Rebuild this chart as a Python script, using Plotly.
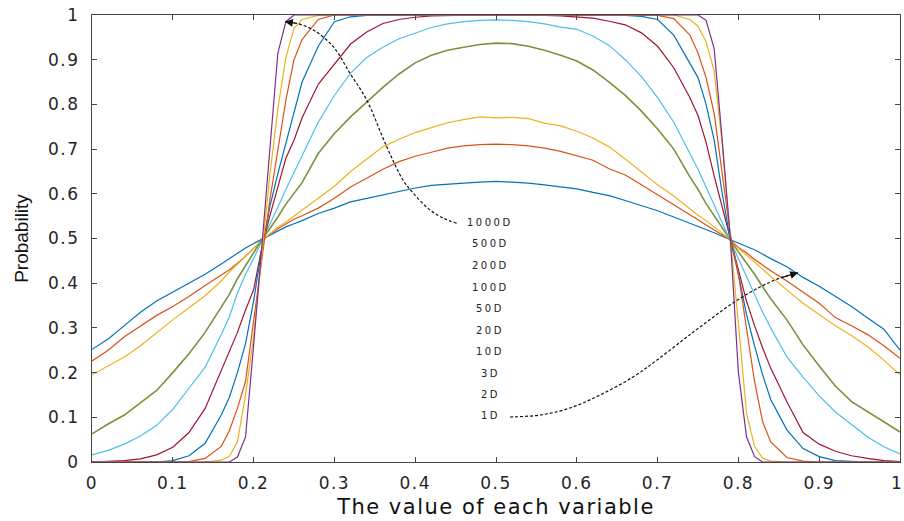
import plotly.graph_objects as go

# Sample positions along the variable axis (finer spacing through the two transitions)
x_vals = [0.00, 0.02, 0.04, 0.06, 0.08, 0.10, 0.12, 0.14, 0.16,
          0.17, 0.18, 0.19, 0.20, 0.21, 0.22, 0.23, 0.24, 0.25, 0.26,
          0.28, 0.30, 0.32, 0.34, 0.36, 0.38, 0.40, 0.42, 0.44, 0.46, 0.48, 0.50,
          0.52, 0.54, 0.56, 0.58, 0.60, 0.62, 0.64, 0.66, 0.68, 0.70, 0.72,
          0.74, 0.75, 0.76, 0.77, 0.78, 0.79, 0.80, 0.81, 0.82, 0.83, 0.84,
          0.86, 0.88, 0.90, 0.92, 0.94, 0.96, 0.98, 1.00]

p_1d = [0.252, 0.275, 0.305, 0.335, 0.360, 0.380, 0.400, 0.420, 0.443,
        0.455, 0.466, 0.479, 0.489, 0.498, 0.508, 0.517, 0.526, 0.533, 0.540,
        0.556, 0.568, 0.582, 0.590, 0.597, 0.606, 0.613, 0.619, 0.622, 0.624, 0.626, 0.628,
        0.626, 0.624, 0.620, 0.616, 0.611, 0.603, 0.596, 0.585, 0.573, 0.562, 0.548,
        0.534, 0.528, 0.520, 0.513, 0.505, 0.497, 0.489, 0.482, 0.475, 0.465, 0.455,
        0.437, 0.413, 0.393, 0.370, 0.348, 0.322, 0.297, 0.250]

p_2d = [0.226, 0.250, 0.280, 0.305, 0.328, 0.348, 0.370, 0.395, 0.418,
        0.430, 0.445, 0.460, 0.478, 0.495, 0.510, 0.522, 0.533, 0.543, 0.551,
        0.568, 0.590, 0.615, 0.635, 0.655, 0.672, 0.684, 0.693, 0.702, 0.707, 0.710, 0.711,
        0.710, 0.707, 0.702, 0.695, 0.685, 0.675, 0.656, 0.642, 0.620, 0.598, 0.575,
        0.553, 0.542, 0.530, 0.519, 0.508, 0.497, 0.480, 0.468, 0.453, 0.440, 0.428,
        0.405, 0.380, 0.355, 0.323, 0.305, 0.285, 0.260, 0.232]

p_3d = [0.195, 0.215, 0.235, 0.260, 0.290, 0.318, 0.345, 0.372, 0.405,
        0.425, 0.442, 0.460, 0.478, 0.496, 0.510, 0.525, 0.537, 0.550, 0.562,
        0.590, 0.617, 0.650, 0.678, 0.705, 0.722, 0.737, 0.748, 0.759, 0.766, 0.772, 0.770,
        0.771, 0.768, 0.758, 0.752, 0.740, 0.725, 0.705, 0.678, 0.648, 0.620, 0.595,
        0.565, 0.552, 0.540, 0.527, 0.512, 0.497, 0.478, 0.463, 0.447, 0.430, 0.415,
        0.385, 0.355, 0.330, 0.305, 0.283, 0.258, 0.228, 0.195]

p_10d = [0.063, 0.085, 0.105, 0.132, 0.160, 0.200, 0.242, 0.290, 0.345,
         0.375, 0.410, 0.440, 0.470, 0.497, 0.522, 0.548, 0.577, 0.600, 0.625,
         0.690, 0.735, 0.772, 0.805, 0.838, 0.868, 0.893, 0.910, 0.921, 0.928, 0.934, 0.937,
         0.936, 0.930, 0.921, 0.910, 0.897, 0.877, 0.850, 0.820, 0.785, 0.745, 0.700,
         0.638, 0.610, 0.578, 0.550, 0.523, 0.497, 0.470, 0.445, 0.420, 0.392, 0.365,
         0.318, 0.262, 0.215, 0.170, 0.135, 0.113, 0.090, 0.067]

p_20d = [0.016, 0.026, 0.040, 0.058, 0.082, 0.118, 0.165, 0.212, 0.285,
         0.325, 0.378, 0.420, 0.455, 0.493, 0.530, 0.570, 0.610, 0.648, 0.685,
         0.760, 0.820, 0.870, 0.905, 0.928, 0.947, 0.960, 0.972, 0.980, 0.985, 0.988, 0.989,
         0.988, 0.985, 0.980, 0.973, 0.968, 0.953, 0.932, 0.900, 0.862, 0.815, 0.760,
         0.690, 0.655, 0.615, 0.575, 0.535, 0.497, 0.455, 0.415, 0.375, 0.335, 0.300,
         0.235, 0.190, 0.148, 0.112, 0.084, 0.056, 0.034, 0.018]

p_50d = [0.000, 0.001, 0.003, 0.007, 0.016, 0.033, 0.066, 0.120, 0.205,
         0.245, 0.290, 0.340, 0.385, 0.478, 0.550, 0.615, 0.680, 0.720, 0.770,
         0.845, 0.890, 0.935, 0.962, 0.981, 0.990, 0.995, 0.998, 0.999, 1.000, 1.000, 1.000,
         1.000, 1.000, 0.999, 0.998, 0.996, 0.993, 0.986, 0.978, 0.960, 0.930, 0.882,
         0.815, 0.775, 0.715, 0.640, 0.570, 0.497, 0.430, 0.360, 0.305, 0.255, 0.210,
         0.135, 0.066, 0.040, 0.024, 0.014, 0.008, 0.003, 0.001]

p_100d = [0.000, 0.000, 0.000, 0.000, 0.000, 0.003, 0.014, 0.042, 0.105,
          0.145, 0.200, 0.265, 0.360, 0.475, 0.570, 0.645, 0.713, 0.778, 0.850,
          0.930, 0.985, 0.996, 0.999, 1.000, 1.000, 1.000, 1.000, 1.000, 1.000, 1.000, 1.000,
          1.000, 1.000, 1.000, 1.000, 1.000, 1.000, 1.000, 0.999, 0.997, 0.990, 0.955,
          0.892, 0.860, 0.800, 0.720, 0.600, 0.497, 0.420, 0.330, 0.260, 0.195, 0.140,
          0.072, 0.030, 0.012, 0.003, 0.001, 0.000, 0.000, 0.000]

p_200d = [0.000, 0.000, 0.000, 0.000, 0.000, 0.000, 0.001, 0.008, 0.035,
          0.070, 0.120, 0.180, 0.310, 0.450, 0.585, 0.700, 0.810, 0.900, 0.945,
          0.990, 1.000, 1.000, 1.000, 1.000, 1.000, 1.000, 1.000, 1.000, 1.000, 1.000, 1.000,
          1.000, 1.000, 1.000, 1.000, 1.000, 1.000, 1.000, 1.000, 1.000, 0.999, 0.992,
          0.955, 0.915, 0.860, 0.780, 0.650, 0.510, 0.420, 0.300, 0.180, 0.090, 0.045,
          0.010, 0.002, 0.000, 0.000, 0.000, 0.000, 0.000, 0.000]

p_500d = [0.000, 0.000, 0.000, 0.000, 0.000, 0.000, 0.000, 0.000, 0.004,
          0.012, 0.045, 0.150, 0.280, 0.455, 0.640, 0.790, 0.905, 0.970, 0.990,
          0.999, 1.000, 1.000, 1.000, 1.000, 1.000, 1.000, 1.000, 1.000, 1.000, 1.000, 1.000,
          1.000, 1.000, 1.000, 1.000, 1.000, 1.000, 1.000, 1.000, 1.000, 1.000, 1.000,
          0.990, 0.975, 0.940, 0.875, 0.710, 0.500, 0.310, 0.110, 0.035, 0.008, 0.002,
          0.000, 0.000, 0.000, 0.000, 0.000, 0.000, 0.000, 0.000]

p_1000d = [0.000, 0.000, 0.000, 0.000, 0.000, 0.000, 0.000, 0.000, 0.000,
           0.000, 0.011, 0.056, 0.260, 0.480, 0.680, 0.915, 0.985, 1.000, 1.000,
           1.000, 1.000, 1.000, 1.000, 1.000, 1.000, 1.000, 1.000, 1.000, 1.000, 1.000, 1.000,
           1.000, 1.000, 1.000, 1.000, 1.000, 1.000, 1.000, 1.000, 1.000, 1.000, 1.000,
           1.000, 1.000, 0.988, 0.925, 0.720, 0.500, 0.200, 0.057, 0.012, 0.000, 0.000,
           0.000, 0.000, 0.000, 0.000, 0.000, 0.000, 0.000, 0.000]

dim_labels = ["1D", "2D", "3D", "10D", "20D", "50D", "100D", "200D", "500D", "1000D"]
series = [p_1d, p_2d, p_3d, p_10d, p_20d, p_50d, p_100d, p_200d, p_500d, p_1000d]
colors = ["#0072BD", "#D95319", "#EDB120", "#77933C", "#4DBEEE",
          "#A2142F", "#0072BD", "#D95319", "#EDB120", "#7E2F8E"]
widths = [1.2, 1.2, 1.2, 1.6, 1.2, 1.2, 1.2, 1.2, 1.2, 1.2]

tick_vals = [0, 0.1, 0.2, 0.3, 0.4, 0.5, 0.6, 0.7, 0.8, 0.9, 1]
tick_text = ["0", "0.1", "0.2", "0.3", "0.4", "0.5", "0.6", "0.7", "0.8", "0.9", "1"]

# Stacked dimension labels in the middle of the plot (1D at the bottom)
label_x = 0.4926
label_y = [0.103, 0.152, 0.199, 0.248, 0.295, 0.344, 0.391, 0.440, 0.488, 0.536]

# Dashed guide curves: from the 1000D label to the steepest curve,
# and from the 1D label to the flattest curve
guide_top_x = [0.4514, 0.4344, 0.4183, 0.3973, 0.3849, 0.3647, 0.3400, 0.3193, 0.2986, 0.2739, 0.2533, 0.2389]
guide_top_y = [0.534, 0.5459, 0.5638, 0.6018, 0.6309, 0.7054, 0.8098, 0.8696, 0.9291, 0.9664, 0.9814, 0.985]
guide_bot_x = [0.5173, 0.5545, 0.5916, 0.6287, 0.6696, 0.6993, 0.7314, 0.7525, 0.7933, 0.8267, 0.8515, 0.8738]
guide_bot_y = [0.1007, 0.1051, 0.1208, 0.1499, 0.1902, 0.2282, 0.2729, 0.3020, 0.3557, 0.3915, 0.4116, 0.4235]

tick_font = dict(family="DejaVu Sans", size=17, color="#262626")


def spaced(s, px):
    return '<span style="letter-spacing:%spx">%s</span>' % (px, s)


fig = go.Figure()

for name, ys, col, w in zip(dim_labels, series, colors, widths):
    fig.add_trace(go.Scatter(x=x_vals, y=ys, mode="lines", name=name,
                             line=dict(color=col, width=w), showlegend=False,
                             hoverinfo="skip"))

for gx, gy in ((guide_top_x, guide_top_y), (guide_bot_x, guide_bot_y)):
    fig.add_trace(go.Scatter(x=gx, y=gy, mode="lines", showlegend=False,
                             line=dict(color="#111111", width=1.2, dash="3px,2px", shape="spline"),
                             hoverinfo="skip"))

annotations = []
for name, ly in zip(dim_labels, label_y):
    annotations.append(dict(
        x=label_x, y=ly, xref="x", yref="y", showarrow=False,
        text=spaced(name, 2.5),
        font=dict(family="DejaVu Sans", size=10, color="#222222"),
        xanchor="center", yanchor="middle"))

# arrowheads at the ends of the guide curves
for gx, gy in ((guide_top_x, guide_top_y), (guide_bot_x, guide_bot_y)):
    annotations.append(dict(
        x=gx[-1], y=gy[-1], ax=gx[-2], ay=gy[-2],
        xref="x", yref="y", axref="x", ayref="y",
        showarrow=True, arrowhead=2, arrowsize=1.3, arrowwidth=1.2,
        arrowcolor="#111111", text="", standoff=0, startstandoff=0))

# the last x tick label sits flush with the right edge of the figure
annotations.append(dict(
    x=1, y=0, xref="paper", yref="paper", xanchor="right", yanchor="middle",
    xshift=4, yshift=-21, showarrow=False, text=tick_text[-1], font=tick_font))

axis_common = dict(
    range=[0, 1], tickmode="array", tickvals=tick_vals,
    ticks="inside", ticklen=5, tickwidth=1, tickcolor="#444444",
    showline=True, linecolor="#444444", linewidth=1, mirror="ticks",
    showgrid=False, zeroline=False, automargin=False,
    tickfont=tick_font,
)

fig.update_layout(
    width=904, height=521,
    margin=dict(l=92, r=4, t=15, b=59),
    paper_bgcolor="white", plot_bgcolor="white",
    xaxis=dict(**axis_common, ticklabelstandoff=6,
               ticktext=[spaced(t, 1.5) for t in tick_text[:-1]] + [""],
               title=dict(text=spaced("The value of each variable", 1.5), standoff=6,
                          font=dict(family="DejaVu Sans", size=21, color="#111111"))),
    yaxis=dict(**axis_common, ticklabelstandoff=8,
               ticktext=[spaced(t, 1.5) for t in tick_text],
               title=dict(text="Probability", standoff=14,
                          font=dict(family="Liberation Sans", size=19, color="#111111"))),
    annotations=annotations,
)

fig.write_html("out.html")
